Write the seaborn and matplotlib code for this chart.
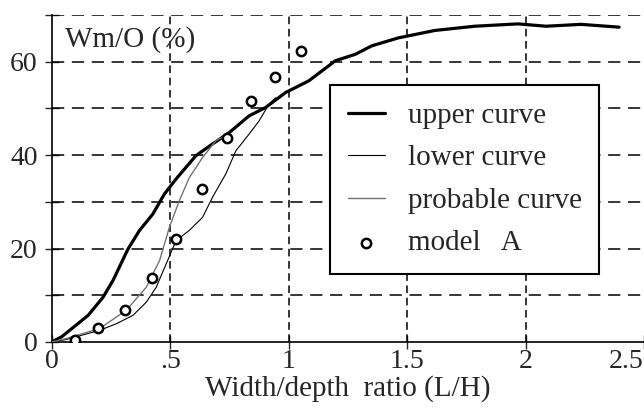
import numpy as np
import pandas as pd
import matplotlib.pyplot as plt
import seaborn as sns

# Valeurs
upper_x = [0.0, 0.042, 0.154, 0.217, 0.259, 0.322, 0.371, 0.427, 0.476, 0.525, 0.609, 0.679,
           0.749, 0.833, 0.903, 0.987, 1.085, 1.197, 1.282, 1.351, 1.463, 1.618, 1.786, 1.968,
           2.087, 2.234, 2.395]
upper_y = [0.0, 1.1, 5.7, 9.6, 13.2, 19.9, 23.9, 27.4, 31.7, 34.9, 39.9, 42.4,
           44.8, 48.4, 50.2, 53.4, 55.9, 60.2, 61.6, 63.4, 65.1, 66.7, 67.6, 68.1,
           67.6, 68.0, 67.4]

lower_x = [0.0, 0.06, 0.203, 0.273, 0.343, 0.399, 0.441, 0.483, 0.525, 0.581, 0.637, 0.679,
           0.735, 0.777, 0.833, 0.875, 0.917, 0.945]
lower_y = [0.0, 0.5, 2.5, 3.9, 5.7, 8.5, 11.7, 16.7, 21.7, 23.9, 26.7, 31.0,
           36.0, 40.9, 44.5, 47.3, 50.9, 52.3]

probable_x = [0.0, 0.06, 0.203, 0.315, 0.399, 0.455, 0.497, 0.539, 0.581, 0.637, 0.693, 0.749]
probable_y = [0.0, 0.7, 2.9, 6.8, 11.7, 17.4, 24.6, 30.3, 35.2, 39.5, 43.1, 44.6]

model_x = [0.098, 0.196, 0.308, 0.424, 0.525, 0.634, 0.739, 0.840, 0.942, 1.054]
model_y = [0.5, 2.9, 6.8, 13.7, 22.1, 32.8, 43.6, 51.6, 56.7, 62.4]

x_ticks = [0, 0.5, 1, 1.5, 2, 2.5]
x_tick_labels = ["0", ".5", "1", "1.5", "2", "2.5"]
y_ticks = [0, 10, 20, 30, 40, 50, 60, 70]
y_tick_labels = ["0", "", "20", "", "40", "", "60", ""]

sns.set_style("ticks")
plt.rcParams['font.family'] = ['Liberation Serif', 'DejaVu Serif']

fig = plt.figure(figsize=(6.44, 4.17), dpi=100)
ax = fig.add_axes([0.0803, 0.18, 0.9197, 0.784])

# Grille en tirets
for yv in y_ticks[1:]:
    ax.axhline(yv, color="black", lw=1.1, ls=(0, (8, 5)), zorder=1)
for xv in x_ticks[1:-1]:
    ax.axvline(xv, color="black", lw=1.1, ls=(0, (5, 3)), zorder=1)

sns.lineplot(x=upper_x, y=upper_y, ax=ax, color="black", lw=2.3, label="upper curve",
             sort=False, zorder=3)
sns.lineplot(x=lower_x, y=lower_y, ax=ax, color="black", lw=0.8, label="lower curve",
             sort=False, zorder=3)
sns.lineplot(x=probable_x, y=probable_y, ax=ax, color="0.45", lw=1.0, label="probable curve",
             sort=False, zorder=3)
sns.scatterplot(x=model_x, y=model_y, ax=ax, marker="o", s=45, facecolor="white",
                edgecolor="black", linewidth=1.8, label="model   A", zorder=4)

ax.set_xlim(0, 2.5)
ax.set_ylim(0, 70)
ax.set_xticks(x_ticks)
ax.set_xticklabels(x_tick_labels)
ax.set_yticks(y_ticks)
ax.set_yticklabels(y_tick_labels)
ax.get_xticklabels()[-1].set_ha("right")
ax.tick_params(axis="both", direction="inout", length=10, width=1, labelsize=20)
ax.tick_params(axis="x", pad=0)
ax.tick_params(axis="y", pad=5)

for s in ["top", "right"]:
    ax.spines[s].set_visible(False)
for s in ["left", "bottom"]:
    ax.spines[s].set_linewidth(1.2)
    ax.spines[s].set_color("black")

ax.set_xlabel("Width/depth  ratio (L/H)", fontsize=21, labelpad=1)
ax.set_ylabel("")
ax.text(0.022, 0.965, "Wm/O (%)", transform=ax.transAxes, fontsize=21,
        ha="left", va="top")

leg = ax.legend(loc="upper left", bbox_to_anchor=(0.470, 0.786), fontsize=21,
                frameon=True, fancybox=False, edgecolor="black", framealpha=1,
                handlelength=1.27, labelspacing=0.55, borderpad=0.6, handletextpad=0.8,
                borderaxespad=0)
leg.get_frame().set_linewidth(1.5)
leg.set_zorder(5)

fig.savefig("out.png", dpi=100)
